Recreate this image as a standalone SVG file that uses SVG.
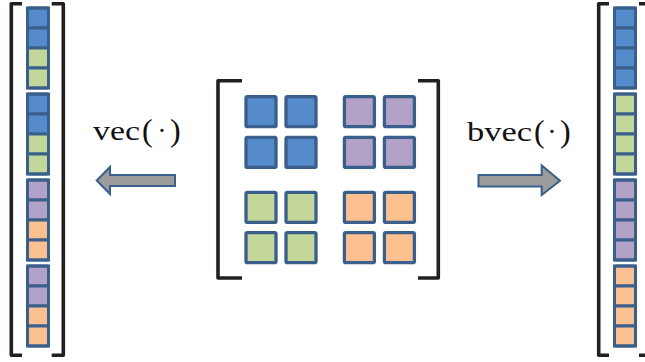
<svg xmlns="http://www.w3.org/2000/svg" width="645" height="362" viewBox="0 0 645 362">
<style>
.b{fill:#558ACB}.g{fill:#C4D79B}.p{fill:#B3A2C7}.o{fill:#FAC090}
.c{stroke:#3A5F8B;stroke-width:3}
.sq{stroke:#3A5F8B;stroke-width:3.3}
.grp{fill:none;stroke:#3A5F8B;stroke-width:3}
.br{fill:none;stroke:#231F20;stroke-width:3.6;stroke-linejoin:round}
.arr{fill:#9C9C9C;stroke:#3A5F8B;stroke-width:2}
.t{font-family:"Liberation Serif","DejaVu Serif",serif;font-size:28px;fill:#111}
.pr{font-family:"Liberation Serif","DejaVu Serif",serif;font-size:32px;fill:#111}
</style>
<rect width="645" height="362" fill="#fff"/>

<g id="left-vector">
  <path class="br" d="M22,3.7 H11.3 V355.3 H22"/>
  <path class="br" d="M51.7,3.7 H63.3 V355.3 H51.7"/>
  <g class="c">
    <rect class="b" x="27.5" y="8" width="21" height="20"/>
    <rect class="b" x="27.5" y="28" width="21" height="20"/>
    <rect class="g" x="27.5" y="48" width="21" height="20"/>
    <rect class="g" x="27.5" y="68" width="21" height="20"/>
    <rect class="b" x="27.5" y="94" width="21" height="20"/>
    <rect class="b" x="27.5" y="114" width="21" height="20"/>
    <rect class="g" x="27.5" y="134" width="21" height="20"/>
    <rect class="g" x="27.5" y="154" width="21" height="20"/>
    <rect class="p" x="27.5" y="180" width="21" height="20"/>
    <rect class="p" x="27.5" y="200" width="21" height="20"/>
    <rect class="o" x="27.5" y="220" width="21" height="20"/>
    <rect class="o" x="27.5" y="240" width="21" height="20"/>
    <rect class="p" x="27.5" y="266" width="21" height="20"/>
    <rect class="p" x="27.5" y="286" width="21" height="20"/>
    <rect class="o" x="27.5" y="306" width="21" height="20"/>
    <rect class="o" x="27.5" y="326" width="21" height="20"/>
  </g>
  <rect class="grp" x="27.5" y="8" width="21" height="80" rx="1.5"/>
  <rect class="grp" x="27.5" y="94" width="21" height="80" rx="1.5"/>
  <rect class="grp" x="27.5" y="180" width="21" height="80" rx="1.5"/>
  <rect class="grp" x="27.5" y="266" width="21" height="80" rx="1.5"/>
</g>

<g id="matrix">
  <path class="br" d="M242,80.7 H218 V278 H242"/>
  <path class="br" d="M418,80.7 H438.3 V278 H418"/>
  <g>
    <rect class="b sq" x="246" y="96.7" width="30" height="30" rx="1.5"/>
    <rect class="b sq" x="286" y="96.7" width="30" height="30" rx="1.5"/>
    <rect class="b sq" x="246" y="137.4" width="30" height="30" rx="1.5"/>
    <rect class="b sq" x="286" y="137.4" width="30" height="30" rx="1.5"/>
    <rect class="p sq" x="344.4" y="96.7" width="30" height="30" rx="1.5"/>
    <rect class="p sq" x="384.4" y="96.7" width="30" height="30" rx="1.5"/>
    <rect class="p sq" x="344.4" y="137.4" width="30" height="30" rx="1.5"/>
    <rect class="p sq" x="384.4" y="137.4" width="30" height="30" rx="1.5"/>
    <rect class="g sq" x="246" y="192.4" width="30" height="30" rx="1.5"/>
    <rect class="g sq" x="286" y="192.4" width="30" height="30" rx="1.5"/>
    <rect class="g sq" x="246" y="232.7" width="30" height="30" rx="1.5"/>
    <rect class="g sq" x="286" y="232.7" width="30" height="30" rx="1.5"/>
    <rect class="o sq" x="344.4" y="192.4" width="30" height="30" rx="1.5"/>
    <rect class="o sq" x="384.4" y="192.4" width="30" height="30" rx="1.5"/>
    <rect class="o sq" x="344.4" y="232.7" width="30" height="30" rx="1.5"/>
    <rect class="o sq" x="384.4" y="232.7" width="30" height="30" rx="1.5"/>
  </g>
</g>

<g id="right-vector">
  <path class="br" d="M609,3.7 H598.7 V355.3 H609"/>
  <path class="br" d="M639,3.7 H651 V355.3 H639"/>
  <g class="c">
    <rect class="b" x="614.5" y="8" width="21" height="20"/>
    <rect class="b" x="614.5" y="28" width="21" height="20"/>
    <rect class="b" x="614.5" y="48" width="21" height="20"/>
    <rect class="b" x="614.5" y="68" width="21" height="20"/>
    <rect class="g" x="614.5" y="94" width="21" height="20"/>
    <rect class="g" x="614.5" y="114" width="21" height="20"/>
    <rect class="g" x="614.5" y="134" width="21" height="20"/>
    <rect class="g" x="614.5" y="154" width="21" height="20"/>
    <rect class="p" x="614.5" y="180" width="21" height="20"/>
    <rect class="p" x="614.5" y="200" width="21" height="20"/>
    <rect class="p" x="614.5" y="220" width="21" height="20"/>
    <rect class="p" x="614.5" y="240" width="21" height="20"/>
    <rect class="o" x="614.5" y="266" width="21" height="20"/>
    <rect class="o" x="614.5" y="286" width="21" height="20"/>
    <rect class="o" x="614.5" y="306" width="21" height="20"/>
    <rect class="o" x="614.5" y="326" width="21" height="20"/>
  </g>
  <rect class="grp" x="614.5" y="8" width="21" height="80" rx="1.5"/>
  <rect class="grp" x="614.5" y="94" width="21" height="80" rx="1.5"/>
  <rect class="grp" x="614.5" y="180" width="21" height="80" rx="1.5"/>
  <rect class="grp" x="614.5" y="266" width="21" height="80" rx="1.5"/>
</g>

<g id="connectors">
  <path class="arr" d="M175,175 V186 H110 V194 L96.7,180.5 L110,167 V175 Z"/>
  <path class="arr" d="M478.5,175 V186.5 H541.7 V195 L560,180.7 L541.7,165.5 V175 Z"/>
</g>

<g id="label-vec">
  <text class="t" x="93" y="140" textLength="47" lengthAdjust="spacingAndGlyphs">vec</text>
  <text class="pr" x="142" y="141">(</text>
  <text class="t" x="162" y="140" text-anchor="middle">·</text>
  <text class="pr" x="170" y="141">)</text>
</g>

<g id="label-bvec">
  <text class="t" x="467" y="141" textLength="65" lengthAdjust="spacingAndGlyphs">bvec</text>
  <text class="pr" x="534" y="142">(</text>
  <text class="t" x="552" y="141" text-anchor="middle">·</text>
  <text class="pr" x="560" y="142">)</text>
</g>
</svg>
